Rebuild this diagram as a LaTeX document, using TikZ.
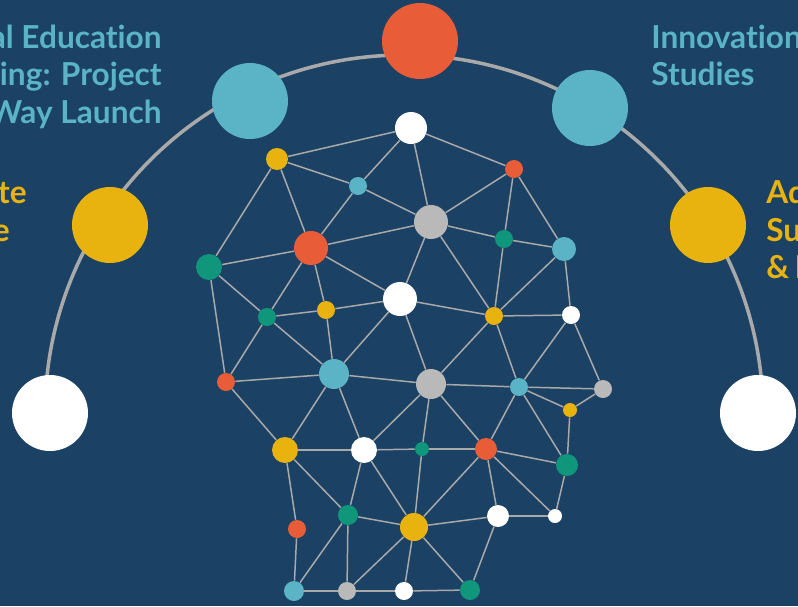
\documentclass[tikz,border=0pt]{standalone}
\usepackage{fontspec}
\usepackage{tikz}
\newfontfamily\headfont{Lato}[Ligatures=NoCommon]
\definecolor{navy}{HTML}{1B4264}
\definecolor{cblue}{HTML}{5AB4C6}
\definecolor{corange}{HTML}{E85D37}
\definecolor{cyellow}{HTML}{E8B20F}
\definecolor{cgreen}{HTML}{10967A}
\definecolor{cgray}{HTML}{B9B9B9}
\definecolor{cline}{HTML}{A9A9A9}

\tikzset{
  dot/.style 2 args={circle, fill=#1, draw=none, inner sep=0pt, minimum size=#2*0.4mm},
  link/.style={cline, line width=0.85pt},
  head/.style={font=\headfont\bfseries\fontsize{18}{21}\selectfont, inner sep=0pt}
}

\begin{document}
\begin{tikzpicture}[x=0.02cm, y=-0.02cm]
\useasboundingbox (0,0) rectangle (798,606);
\clip (0,0) rectangle (798,606);
\fill[navy] (0,0) rectangle (798,606);

% big arc with the seven topics
\draw[cline, line width=2pt] (404,414) ++(180:359) arc[start angle=180, end angle=360, radius=359];
\node[dot={white}{38}]   (ba) at (50,413)  {};
\node[dot={cyellow}{38}] (bb) at (110,225) {};
\node[dot={cblue}{38}]   (bc) at (250,101) {};
\node[dot={corange}{38}] (bd) at (420,41)  {};
\node[dot={cblue}{38}]   (be) at (590,108) {};
\node[dot={cyellow}{38}] (bf) at (708,225) {};
\node[dot={white}{38}]   (bg) at (758,413) {};

% labels
\node[head, cblue, anchor=base east] (la) at (162,48)  {al Education};
\node[head, cblue, anchor=base east] (lb) at (162,85)  {ing: Project};
\node[head, cblue, anchor=base east] (lc) at (162,123) {Way Launch};
\node[head, cyellow, anchor=base east] (ld) at (27,203) {te};
\node[head, cyellow, anchor=base east] (le) at (10,241) {e};
\node[head, cblue, anchor=base west] (ra) at (651,48) {Innovation};
\node[head, cblue, anchor=base west] (rb) at (651,85) {Studies};
\node[head, cyellow, anchor=base west] (rc) at (766,203) {Ad};
\node[head, cyellow, anchor=base west] (rd) at (766,241) {Su};
\node[head, cyellow, anchor=base west] (re) at (766,278) {\&\kern3pt I};

% network
\node[dot={white}{16}]   (w1) at (411,128) {};
\node[dot={cyellow}{11}] (y1) at (277,159) {};
\node[dot={cblue}{9}]    (c1) at (358,186) {};
\node[dot={cgray}{17}]   (s1) at (431,222) {};
\node[dot={corange}{17}] (r1) at (311,248) {};
\node[dot={cgreen}{13}]  (t1) at (209,267) {};
\node[dot={cgreen}{9}]   (t2) at (267,317) {};
\node[dot={cyellow}{9}]  (y2) at (326,310) {};
\node[dot={white}{17}]   (w2) at (400,299) {};
\node[dot={corange}{9}]  (r2) at (514,169) {};
\node[dot={cgreen}{9}]   (t3) at (504,239) {};
\node[dot={cblue}{12}]   (c2) at (564,249) {};
\node[dot={cyellow}{9}]  (y3) at (494,316) {};
\node[dot={white}{9}]    (w3) at (571,315) {};
\node[dot={cblue}{9}]    (c3) at (519,387) {};
\node[dot={cgray}{9}]    (s2) at (603,389) {};
\node[dot={cyellow}{7}]  (y4) at (570,410) {};
\node[dot={corange}{9}]  (r3) at (226,382) {};
\node[dot={cblue}{15}]   (c4) at (334,374) {};
\node[dot={cgray}{15}]   (s3) at (431,384) {};
\node[dot={cyellow}{13}] (y5) at (285,450) {};
\node[dot={white}{13}]   (w4) at (364,450) {};
\node[dot={cgreen}{7}]   (t4) at (422,449) {};
\node[dot={corange}{11}] (r4) at (486,449) {};
\node[dot={cgreen}{11}]  (t5) at (567,465) {};
\node[dot={cgreen}{10}]  (t6) at (348,515) {};
\node[dot={corange}{9}]  (r5) at (297,529) {};
\node[dot={cyellow}{14}] (y6) at (414,527) {};
\node[dot={white}{11}]   (w5) at (498,516) {};
\node[dot={white}{7}]    (w6) at (555,516) {};
\node[dot={cblue}{10}]   (c5) at (294,591) {};
\node[dot={cgray}{9}]    (s4) at (347,591) {};
\node[dot={white}{9}]    (w7) at (404,591) {};
\node[dot={cgreen}{10}]  (t7) at (470,590) {};

\foreach \a/\b in {y1/w1, y1/c1, y1/r1, y1/t1, c1/w1, c1/s1, c1/r1, w1/s1, w1/r2,
  s1/r2, s1/t3, s1/r1, s1/w2, s1/y3, r1/t1, r1/t2, r1/y2, r1/w2, t1/t2, t1/r3,
  t2/y2, t2/c4, t2/r3, y2/w2, y2/c4, w2/c4, w2/s3, w2/y3, y3/s3, r2/t3, r2/c2,
  t3/c2, t3/y3, c2/y3, c2/w3, y3/w3, y3/c3, w3/c3, w3/s2, c3/s2, c3/y4, y4/s2,
  y4/t5, c3/r4, c3/t5, s3/c3, s3/r4, r3/c4, r3/y5, c4/s3, c4/y5, c4/w4, s3/w4,
  s3/t4, y5/w4, w4/t4, t4/r4, r4/t5, r4/w6, t5/w6, y5/t6, y5/r5, w4/t6, w4/y6,
  t4/y6, r4/y6, r4/w5, t6/y6, y6/w5, w5/w6, r5/c5, t6/c5, t6/s4, y6/s4, y6/w7,
  y6/t7, w5/t7, c5/s4, s4/w7, w7/t7}
  \draw[link] (\a) -- (\b);
\end{tikzpicture}
\end{document}
